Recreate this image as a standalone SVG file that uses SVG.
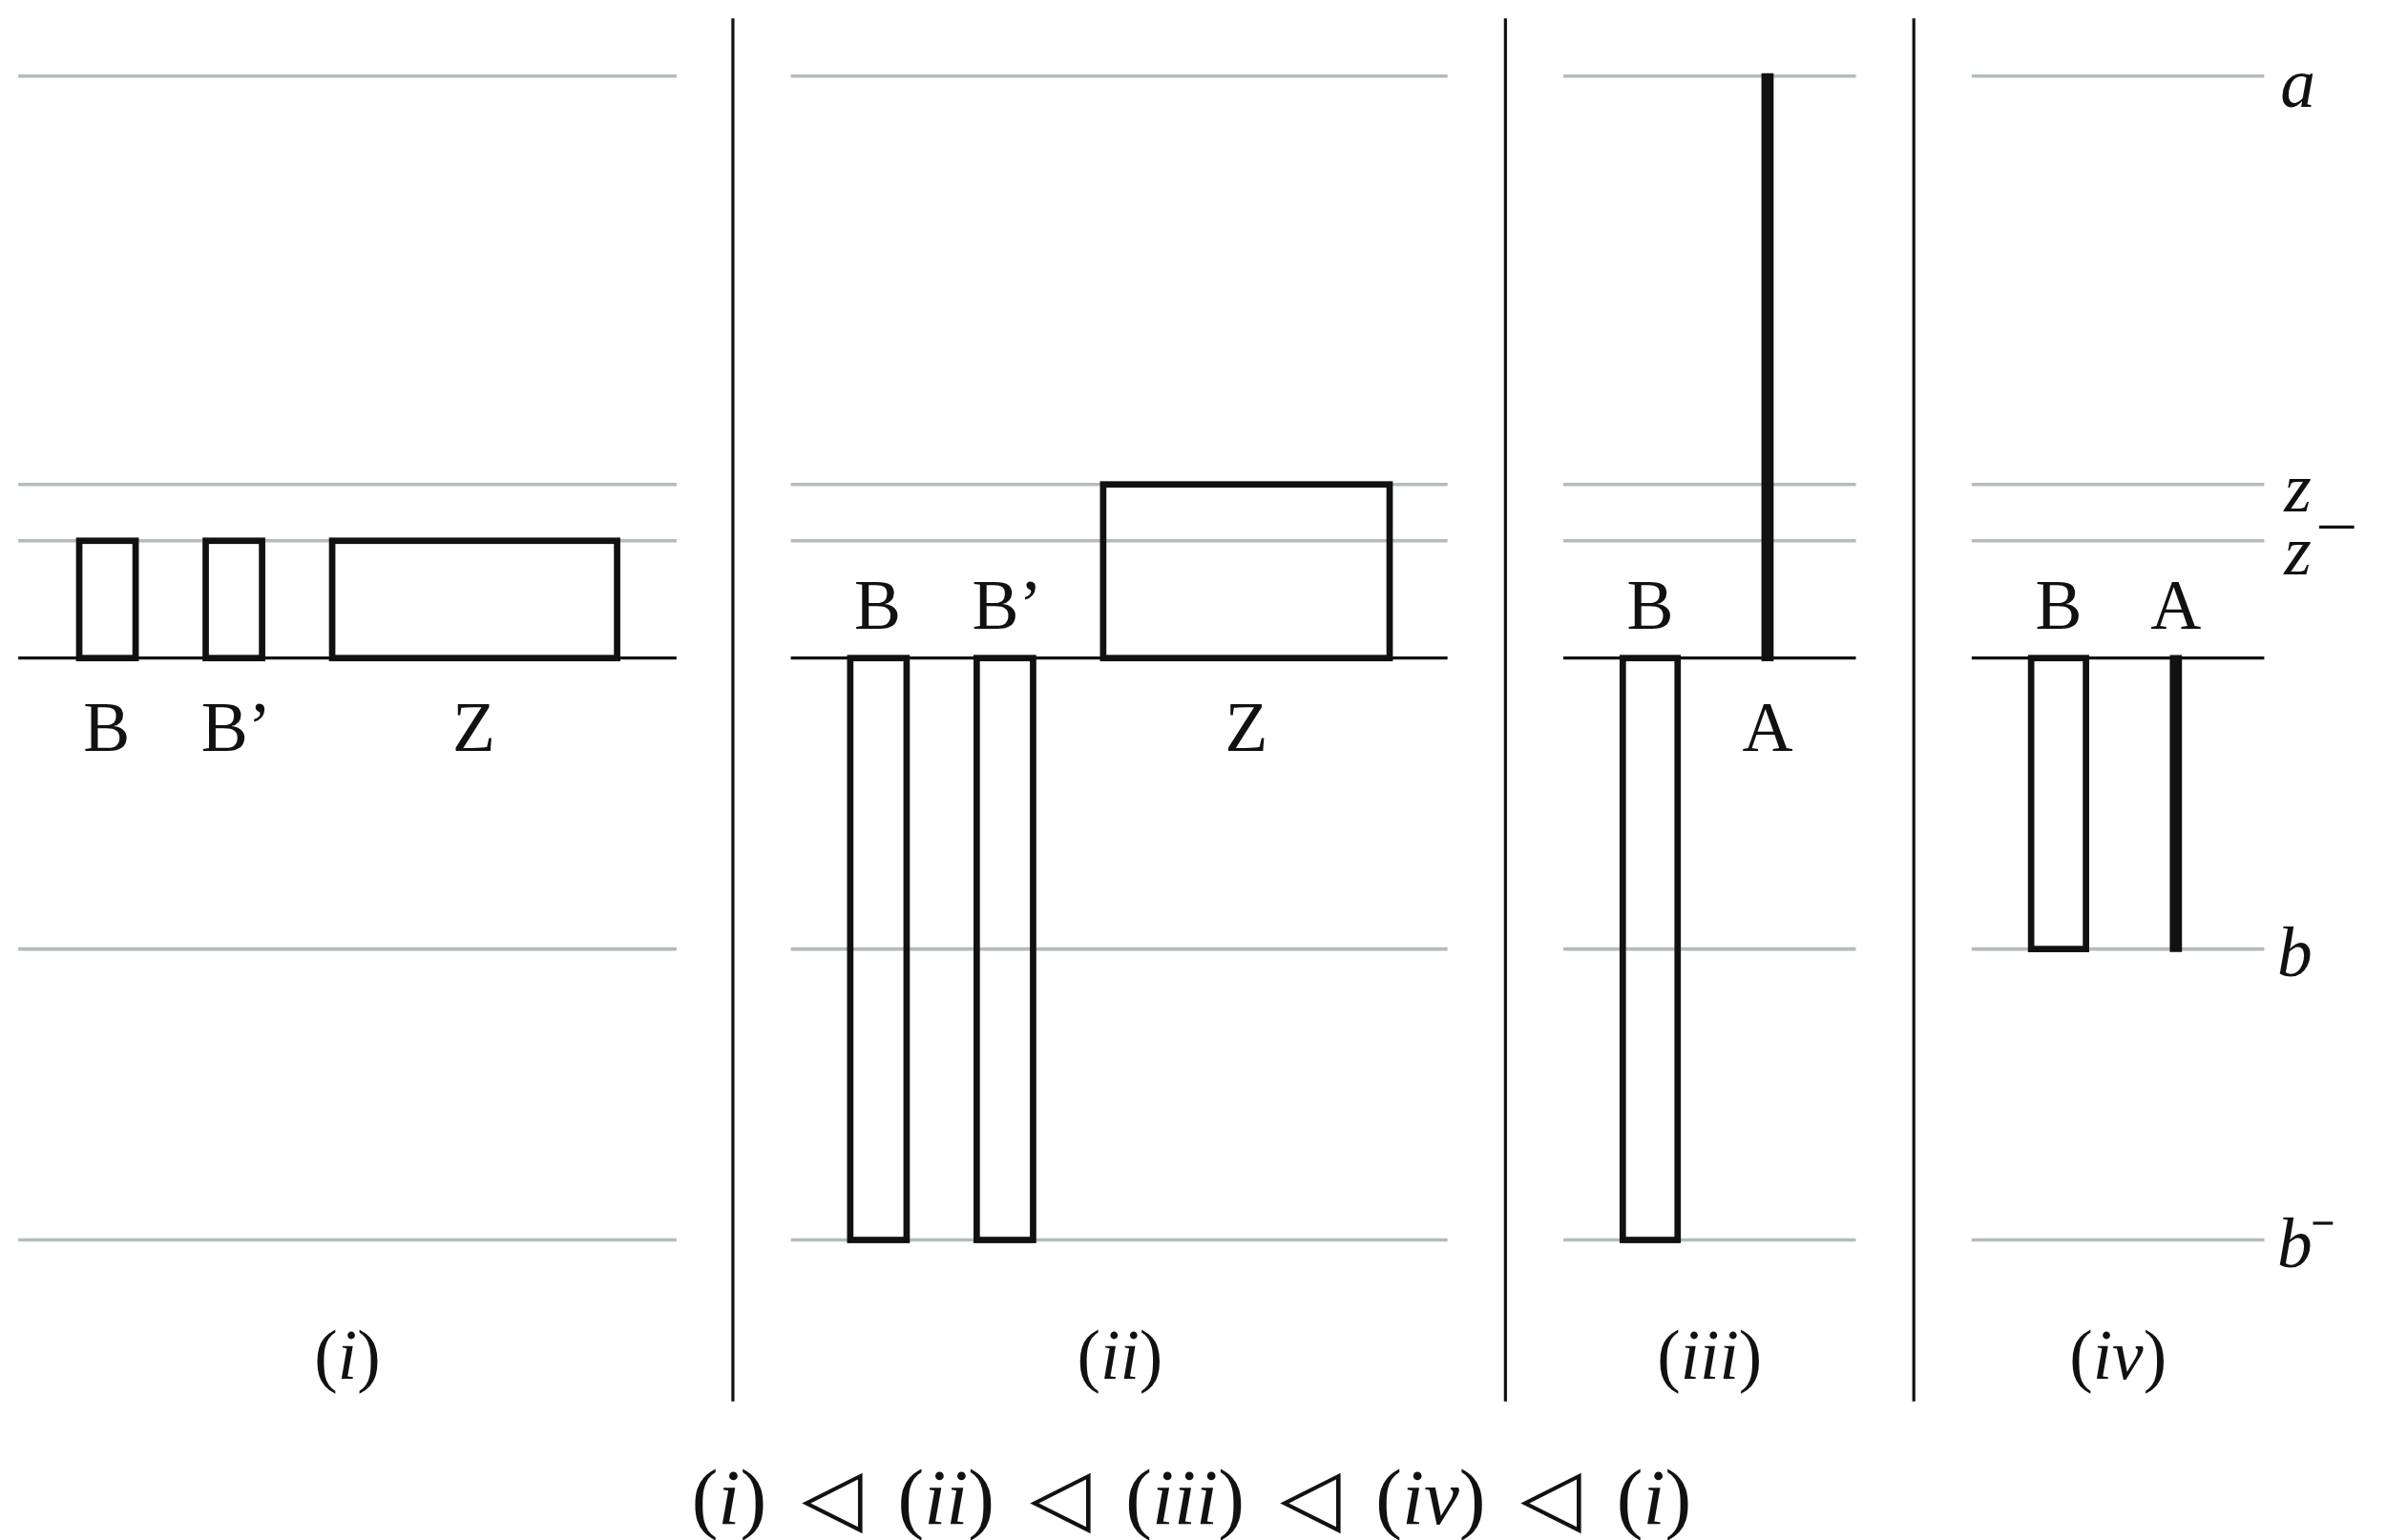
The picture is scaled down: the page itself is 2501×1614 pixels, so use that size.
<svg xmlns="http://www.w3.org/2000/svg" width="2501" height="1614" viewBox="0 0 2501 1614">
<style>
.g{stroke:#b4bcb8;stroke-width:2.2}
.k{stroke:#111;stroke-width:2}
.r{fill:none;stroke:#111;stroke-width:4.2}
.bar{stroke:#111;stroke-width:8}
text{font-family:"Liberation Serif","Times New Roman",serif;font-size:46px;fill:#111;text-anchor:middle}
.m{font-style:italic}
</style>
<rect width="2501" height="1614" fill="#fff"/>
<g transform="scale(1.5965)">
<g id="guides">
<g class="g">
<line x1="12" y1="50" x2="444" y2="50"/><line x1="12" y1="318" x2="444" y2="318"/><line x1="12" y1="355" x2="444" y2="355"/><line x1="12" y1="623" x2="444" y2="623"/><line x1="12" y1="814" x2="444" y2="814"/>
<line x1="519" y1="50" x2="950" y2="50"/><line x1="519" y1="318" x2="950" y2="318"/><line x1="519" y1="355" x2="950" y2="355"/><line x1="519" y1="623" x2="950" y2="623"/><line x1="519" y1="814" x2="950" y2="814"/>
<line x1="1026" y1="50" x2="1218" y2="50"/><line x1="1026" y1="318" x2="1218" y2="318"/><line x1="1026" y1="355" x2="1218" y2="355"/><line x1="1026" y1="623" x2="1218" y2="623"/><line x1="1026" y1="814" x2="1218" y2="814"/>
<line x1="1294" y1="50" x2="1486" y2="50"/><line x1="1294" y1="318" x2="1486" y2="318"/><line x1="1294" y1="355" x2="1486" y2="355"/><line x1="1294" y1="623" x2="1486" y2="623"/><line x1="1294" y1="814" x2="1486" y2="814"/>
</g>
<g class="k">
<line x1="12" y1="432" x2="444" y2="432"/><line x1="519" y1="432" x2="950" y2="432"/><line x1="1026" y1="432" x2="1218" y2="432"/><line x1="1294" y1="432" x2="1486" y2="432"/>
<line x1="481" y1="12" x2="481" y2="920"/><line x1="988" y1="12" x2="988" y2="920"/><line x1="1256" y1="12" x2="1256" y2="920"/>
</g>
</g>
<g id="panel-i">
<rect class="r" x="52" y="355" width="37" height="77"/>
<rect class="r" x="135" y="355" width="37" height="77"/>
<rect class="r" x="218" y="355" width="187" height="77"/>
<text x="70" y="493">B</text><text x="155" y="493">B’</text><text x="311" y="493">Z</text>
<text x="228" y="905">(<tspan class="m">i</tspan>)</text>
</g>
<g id="panel-ii">
<rect class="r" x="558" y="432" width="37" height="382"/>
<rect class="r" x="641" y="432" width="37" height="382"/>
<rect class="r" x="724" y="318" width="188" height="114"/>
<text x="576" y="413">B</text><text x="661" y="413">B’</text><text x="818" y="493">Z</text>
<text x="735" y="905">(<tspan class="m">ii</tspan>)</text>
</g>
<g id="panel-iii">
<rect class="r" x="1065" y="432" width="36" height="382"/>
<line class="bar" x1="1160" y1="48" x2="1160" y2="434"/>
<text x="1083" y="413">B</text><text x="1160" y="493">A</text>
<text x="1122" y="905">(<tspan class="m">iii</tspan>)</text>
</g>
<g id="panel-iv">
<rect class="r" x="1333" y="432" width="36" height="191"/>
<line class="bar" x1="1428" y1="430" x2="1428" y2="625"/>
<text x="1351" y="413">B</text><text x="1428" y="413">A</text>
<text x="1390" y="905">(<tspan class="m">iv</tspan>)</text>
</g>
<g id="labels">
<text class="m" x="1508" y="70">a</text>
<text class="m" x="1508" y="336">z</text>
<line class="k" x1="1522" y1="346" x2="1545" y2="346" stroke-width="1.5"/>
<text class="m" x="1508" y="377">z</text>
<text class="m" x="1506" y="641">b</text>
<text class="m" x="1506" y="832">b</text>
<line class="k" x1="1518" y1="803" x2="1531" y2="803" stroke-width="1.8"/>
</g>
<text x="782" y="1000" style="font-size:52px;word-spacing:10px">(<tspan class="m">i</tspan>) ◁ (<tspan class="m">ii</tspan>) ◁ (<tspan class="m">iii</tspan>) ◁ (<tspan class="m">iv</tspan>) ◁ (<tspan class="m">i</tspan>)</text>
</g>
</svg>
